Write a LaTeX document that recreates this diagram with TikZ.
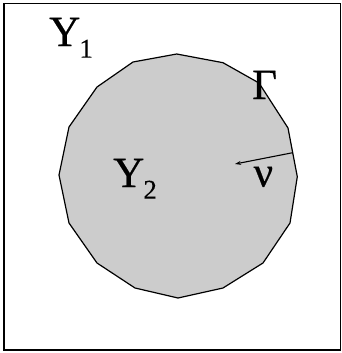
\documentclass[tikz,border=0pt]{standalone}
\usepackage{fontspec}
\setmainfont{Liberation Serif}
\newfontfamily\lblfont[FakeBold=0.5]{Liberation Serif}
\usepackage{tikz}
\usetikzlibrary{calc, arrows.meta, positioning}

\tikzset{
    lbl/.style={inner sep=0pt, anchor=base west, font=\lblfont\fontsize{43}{43}\selectfont},
    region/.style={fill=gray!40, draw=black, line width=1.2pt, line join=miter},
}
\newcommand{\subidx}[1]{\kern-0.02em\lower0.27em\hbox{\fontsize{27}{27}\selectfont #1}}

\begin{document}
\begin{tikzpicture}[x=1pt, y=-1pt, >=Stealth]

    % =================================================================
    % 1. KHUNG VA VUNG BAO
    % =================================================================
    \useasboundingbox (0,0) rectangle (342,353);
    \draw[line width=1.6pt] (4,3.5) rectangle (340.5,350);

    % =================================================================
    % 2. CAC DINH CUA DA GIAC (BIEN GAMMA)
    % =================================================================
    \coordinate (P1) at (176.7,54);
    \coordinate (P2) at (223,62.7);
    \coordinate (P3) at (259,83);
    \coordinate (P4) at (288,128);
    \coordinate (P5) at (292.7,152.7);
    \coordinate (P6) at (297.3,176.7);
    \coordinate (P7) at (290,223);
    \coordinate (P8) at (263,263);
    \coordinate (P9) at (223,288);
    \coordinate (P10) at (178,298);
    \coordinate (P11) at (135,288);
    \coordinate (P12) at (97,263);
    \coordinate (P13) at (69,223);
    \coordinate (P14) at (59,175);
    \coordinate (P15) at (69,127);
    \coordinate (P16) at (97,87);
    \coordinate (P17) at (133,62);

    % to mau vung Y2
    \draw[region] (P1) -- (P2) -- (P3) -- (P4) -- (P5) -- (P6) -- (P7)
        -- (P8) -- (P9) -- (P10) -- (P11) -- (P12) -- (P13) -- (P14)
        -- (P15) -- (P16) -- (P17) -- cycle;

    % =================================================================
    % 3. VEC TO PHAP TUYEN NU
    % =================================================================
    \coordinate (Tip) at (235,164);
    \draw[->, line width=1.1pt, >={Stealth[length=6pt, width=4pt]}] (P5) -- (Tip);

    % =================================================================
    % 4. NHAN
    % =================================================================
    \node[lbl] (Y1) at (49,46) {Y\subidx{1}};
    \node[lbl] (Y2) at (113,187) {Y\subidx{2}};
    \node[lbl] (G) at (252,99) {Γ};
    \node[lbl] (N) at (253.5,186.5) {ν};

\end{tikzpicture}
\end{document}
